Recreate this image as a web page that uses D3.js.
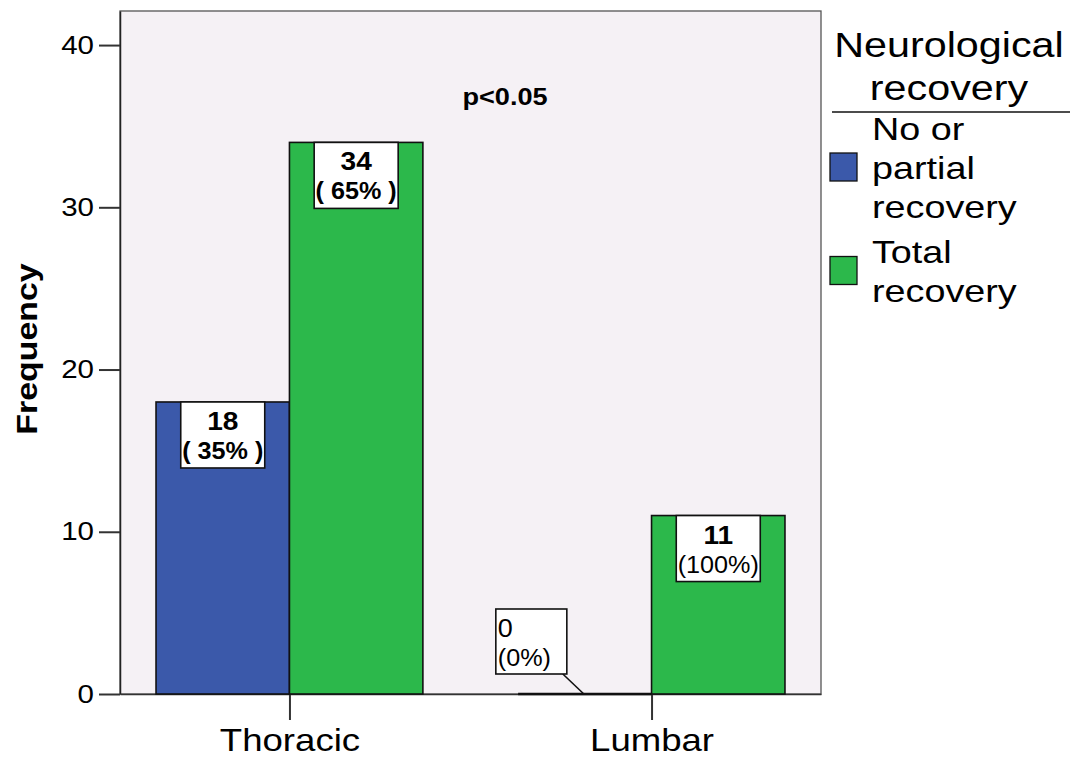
<!DOCTYPE html>
<html>
<head>
<meta charset="utf-8">
<script src="https://cdn.jsdelivr.net/npm/d3@7"></script>
<style>
  body { margin: 0; background: #fff; }
  text { font-family: "Liberation Sans", Arial, sans-serif; fill: #000; }
</style>
</head>
<body>
<div id="chart"></div>
<script>
const categories = ["Thoracic", "Lumbar"];
const seriesNames = ["No or partial recovery", "Total recovery"];
const noRecovery = [18, 0];
const totalRecovery = [34, 11];
const pctNoRecovery = ["35%", "0%"];
const pctTotalRecovery = ["65%", "100%"];
const yTicks = [0, 10, 20, 30, 40];
const legendTitle = ["Neurological", "recovery"];
const legendLines = [["No or", "partial", "recovery"], ["Total", "recovery"]];
const pValue = "p<0.05";

const width = 1071, height = 762;
const colors = ["#3b59aa", "#2cb84b"];
const sx = 1.18; // text in the picture is drawn a bit wide

const plot = { left: 120, right: 821, top: 11, bottom: 694 };

const svg = d3.select('#chart').append('svg')
    .attr('width', width)
    .attr('height', height);

// rows: one per category and series
let rows = [];
categories.forEach(function(c, i) {
  rows.push({ cat: c, series: seriesNames[0], value: noRecovery[i], pct: pctNoRecovery[i], idx: i });
  rows.push({ cat: c, series: seriesNames[1], value: totalRecovery[i], pct: pctTotalRecovery[i], idx: i });
});

let xScale = d3.scalePoint()
    .domain(categories)
    .range([plot.left, plot.right])
    .padding(0.468);

let groupWidth = xScale.step() * 0.737;

let xInner = d3.scaleBand()
    .domain(seriesNames)
    .range([-groupWidth / 2, groupWidth / 2]);

let yScale = d3.scaleLinear()
    .domain([0, 42.1])
    .range([plot.bottom, plot.top]);

let color = d3.scaleOrdinal().domain(seriesNames).range(colors);

// plot background
svg.append('rect')
    .attr('x', plot.left)
    .attr('y', plot.top)
    .attr('width', plot.right - plot.left)
    .attr('height', plot.bottom - plot.top)
    .attr('fill', '#f5f1f5')
    .attr('stroke', '#555')
    .attr('stroke-width', 1.3);

// y axis
let yAxis = d3.axisLeft(yScale)
    .tickValues(yTicks)
    .tickSize(21)
    .tickSizeOuter(0)
    .tickPadding(5);

let yg = svg.append('g')
    .attr('transform', 'translate(' + plot.left + ',0)')
    .call(yAxis);
yg.select('.domain').attr('stroke', '#222').attr('stroke-width', 1.5);
yg.selectAll('.tick line').attr('stroke', '#333').attr('stroke-width', 2);
yg.selectAll('.tick text')
    .attr('font-size', 25)
    .attr('fill', '#444')
    .style('font-family', '"Liberation Sans", Arial, sans-serif')
    .attr('transform', function() {
      let x = +d3.select(this).attr('x');
      return 'translate(' + x + ',0) scale(' + sx + ',1)';
    })
    .attr('x', 0);

// x axis
let xAxis = d3.axisBottom(xScale)
    .tickSize(26)
    .tickSizeOuter(0)
    .tickPadding(9);

let xg = svg.append('g')
    .attr('transform', 'translate(0,' + plot.bottom + ')')
    .call(xAxis);
xg.select('.domain').attr('stroke', '#333').attr('stroke-width', 1.5);
xg.selectAll('.tick line').attr('stroke', '#333').attr('stroke-width', 2);
xg.selectAll('.tick text')
    .attr('font-size', 31)
    .attr('fill', '#111')
    .attr('dy', '0.71em')
    .style('font-family', '"Liberation Sans", Arial, sans-serif')
    .attr('transform', function() {
      let y = +d3.select(this).attr('y');
      return 'translate(0,' + y + ') scale(' + sx + ',1)';
    })
    .attr('y', 0);

// bars
let bars = svg.append('g');
bars.selectAll('.bar')
    .data(rows.filter(function(d) { return d.value > 0; }))
    .enter()
    .append('rect')
    .attr('class', 'bar')
    .attr('x', function(d) { return xScale(d.cat) + xInner(d.series); })
    .attr('y', function(d) { return yScale(d.value); })
    .attr('width', xInner.bandwidth())
    .attr('height', function(d) { return yScale(0) - yScale(d.value); })
    .attr('fill', function(d) { return color(d.series); })
    .attr('stroke', '#111')
    .attr('stroke-width', 1.6);

// zero bars drawn as a line on the baseline
bars.selectAll('.zero')
    .data(rows.filter(function(d) { return d.value === 0; }))
    .enter()
    .append('line')
    .attr('class', 'zero')
    .attr('x1', function(d) { return xScale(d.cat) + xInner(d.series); })
    .attr('x2', function(d) { return xScale(d.cat) + xInner(d.series) + xInner.bandwidth(); })
    .attr('y1', yScale(0))
    .attr('y2', yScale(0))
    .attr('stroke', '#111')
    .attr('stroke-width', 2.5);

// value labels
let boxW = 84, boxH = 66;
let labels = svg.append('g');
rows.forEach(function(d) {
  let cx = xScale(d.cat) + xInner(d.series) + xInner.bandwidth() / 2;
  let g = labels.append('g');
  if (d.value > 0) {
    let top = yScale(d.value);
    g.append('rect')
        .attr('x', cx - boxW / 2).attr('y', top)
        .attr('width', boxW).attr('height', boxH)
        .attr('fill', '#fff').attr('stroke', '#111').attr('stroke-width', 1.6);
    let bold = d.idx === 0;
    g.append('text')
        .attr('transform', 'translate(' + cx + ',' + (top + 28) + ') scale(1.08,1)')
        .attr('text-anchor', 'middle')
        .attr('font-size', 26).attr('font-weight', 'bold')
        .text(d.value);
    g.append('text')
        .attr('transform', 'translate(' + cx + ',' + (top + 57) + ') scale(1.05,1)')
        .attr('text-anchor', 'middle')
        .attr('font-size', 24).attr('font-weight', bold ? 'bold' : 'normal')
        .attr('xml:space', 'preserve')
        .text(bold ? '( ' + d.pct + ' )' : '(' + d.pct + ')');
  } else {
    // label for empty bar sits up and to the left with a leader line
    let bx = cx - 89, by = yScale(0) - 85, bw = 71;
    g.append('line')
        .attr('x1', bx + bw - 4).attr('y1', by + boxH - 1)
        .attr('x2', bx + bw + 17).attr('y2', yScale(0))
        .attr('stroke', '#111').attr('stroke-width', 1.6);
    g.append('rect')
        .attr('x', bx).attr('y', by)
        .attr('width', bw).attr('height', boxH - 1)
        .attr('fill', '#fff').attr('stroke', '#111').attr('stroke-width', 1.6);
    g.append('text')
        .attr('transform', 'translate(' + (bx + 2) + ',' + (by + 28) + ') scale(1.08,1)')
        .attr('font-size', 25)
        .text(d.value);
    g.append('text')
        .attr('transform', 'translate(' + (bx + 2) + ',' + (by + 57) + ') scale(1.05,1)')
        .attr('font-size', 24)
        .text('(' + d.pct + ')');
  }
});

// p value
svg.append('text')
    .attr('transform', 'translate(505,105) scale(' + sx + ',1)')
    .attr('text-anchor', 'middle')
    .attr('font-size', 23)
    .attr('font-weight', 'bold')
    .text(pValue);

// y axis title
svg.append('text')
    .attr('transform', 'translate(37,349) rotate(-90) scale(1.13,1)')
    .attr('text-anchor', 'middle')
    .attr('font-size', 30)
    .attr('font-weight', 'bold')
    .text('Frequency');

// legend
let legend = svg.append('g');
legend.selectAll('.ltitle')
    .data(legendTitle)
    .enter()
    .append('text')
    .attr('transform', function(d, i) { return 'translate(949,' + (57 + i * 43) + ') scale(' + sx + ',1)'; })
    .attr('text-anchor', 'middle')
    .attr('font-size', 35)
    .text(function(d) { return d; });

legend.append('line')
    .attr('x1', 832).attr('x2', 1070)
    .attr('y1', 112).attr('y2', 112)
    .attr('stroke', '#111').attr('stroke-width', 1.5);

let lineStarts = [140, 263];
seriesNames.forEach(function(s, i) {
  let lines = legendLines[i];
  let mid = lineStarts[i] + (lines.length - 1) * 39 / 2;
  legend.append('rect')
      .attr('x', 830).attr('y', mid - 26)
      .attr('width', 27).attr('height', 28)
      .attr('fill', color(s))
      .attr('stroke', '#111').attr('stroke-width', 1.3);
  lines.forEach(function(t, j) {
    legend.append('text')
        .attr('transform', 'translate(872,' + (lineStarts[i] + j * 39) + ') scale(' + sx + ',1)')
        .attr('font-size', 32)
        .text(t);
  });
});
</script>
</body>
</html>
